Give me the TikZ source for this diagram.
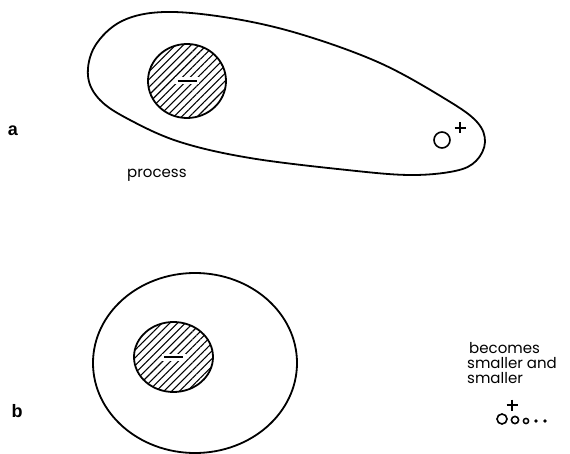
\documentclass[tikz,border=0pt]{standalone}
\usepackage{fontspec}
\setsansfont{Poppins}
\newfontfamily\partfont{Liberation Sans}
\usetikzlibrary{patterns.meta}
\tikzset{
  outline/.style={line width=1.8pt},
  hatched/.style={outline, pattern={Lines[angle=45,distance=5.5pt,line width=1.1pt]}},
  caption/.style={font=\sffamily\fontsize{15}{15}\selectfont, inner sep=0pt, anchor=base west},
  partlabel/.style={font=\partfont\bfseries\fontsize{18}{18}\selectfont, inner sep=0pt},
}
% negative core: hatched disc with a minus in a small clear gap
\newcommand{\negcore}[4]{%
  \draw[hatched] (#1,#2) ellipse [x radius=#3, y radius=#4];
  \fill[white] (#1-12,#2-3.5) rectangle (#1+12,#2+3.5);
  \draw[line width=2.8pt] (#1-9.5,#2) -- (#1+9.5,#2);
}
\newcommand{\plussign}[3]{%
  \draw[line width=2.5pt] (#1-#3,#2) -- (#1+#3,#2) (#1,#2-#3) -- (#1,#2+#3);
}

\begin{document}
\begin{tikzpicture}[x=1pt,y=-1pt]
  \useasboundingbox (0,0) rectangle (570,454);

  % a: stretched cloud
  \draw[outline] plot[smooth cycle, tension=0.6] coordinates {
    (88,76) (95,46) (122,21) (165,12) (230,18) (300,34) (380,63)
    (447,100) (477,122) (485,142) (476,161) (455,171) (410,175)
    (347,170) (250,158) (180,142) (130,120) (100,100)};
  \negcore{187}{81}{39}{37}
  \draw[line width=1.6pt] (442,140) circle [radius=8];
  \plussign{460}{128}{5.5}
  \node[caption] (process) at (127,178) {process};
  \node[partlabel] (parta) at (13,131) {a};

  % b: round cloud
  \draw[outline] (195,363) ellipse [x radius=102, y radius=90];
  \negcore{173.5}{357}{39.5}{35}
  \node[caption] (line1) at (469,353) {becomes};
  \node[caption] (line2) at (467,368) {smaller and};
  \node[caption] (line3) at (467,383) {smaller};
  \plussign{512}{405}{5.5}
  \draw[line width=1.6pt] (502,419) circle [radius=5];
  \draw[line width=1.6pt] (515,420) circle [radius=3.6];
  \draw[line width=1.5pt] (526,421) circle [radius=2.6];
  \fill (536,421) circle [radius=1.9];
  \fill (545,421) circle [radius=1.9];
  \node[partlabel] (partb) at (17,411) {b};
\end{tikzpicture}
\end{document}
